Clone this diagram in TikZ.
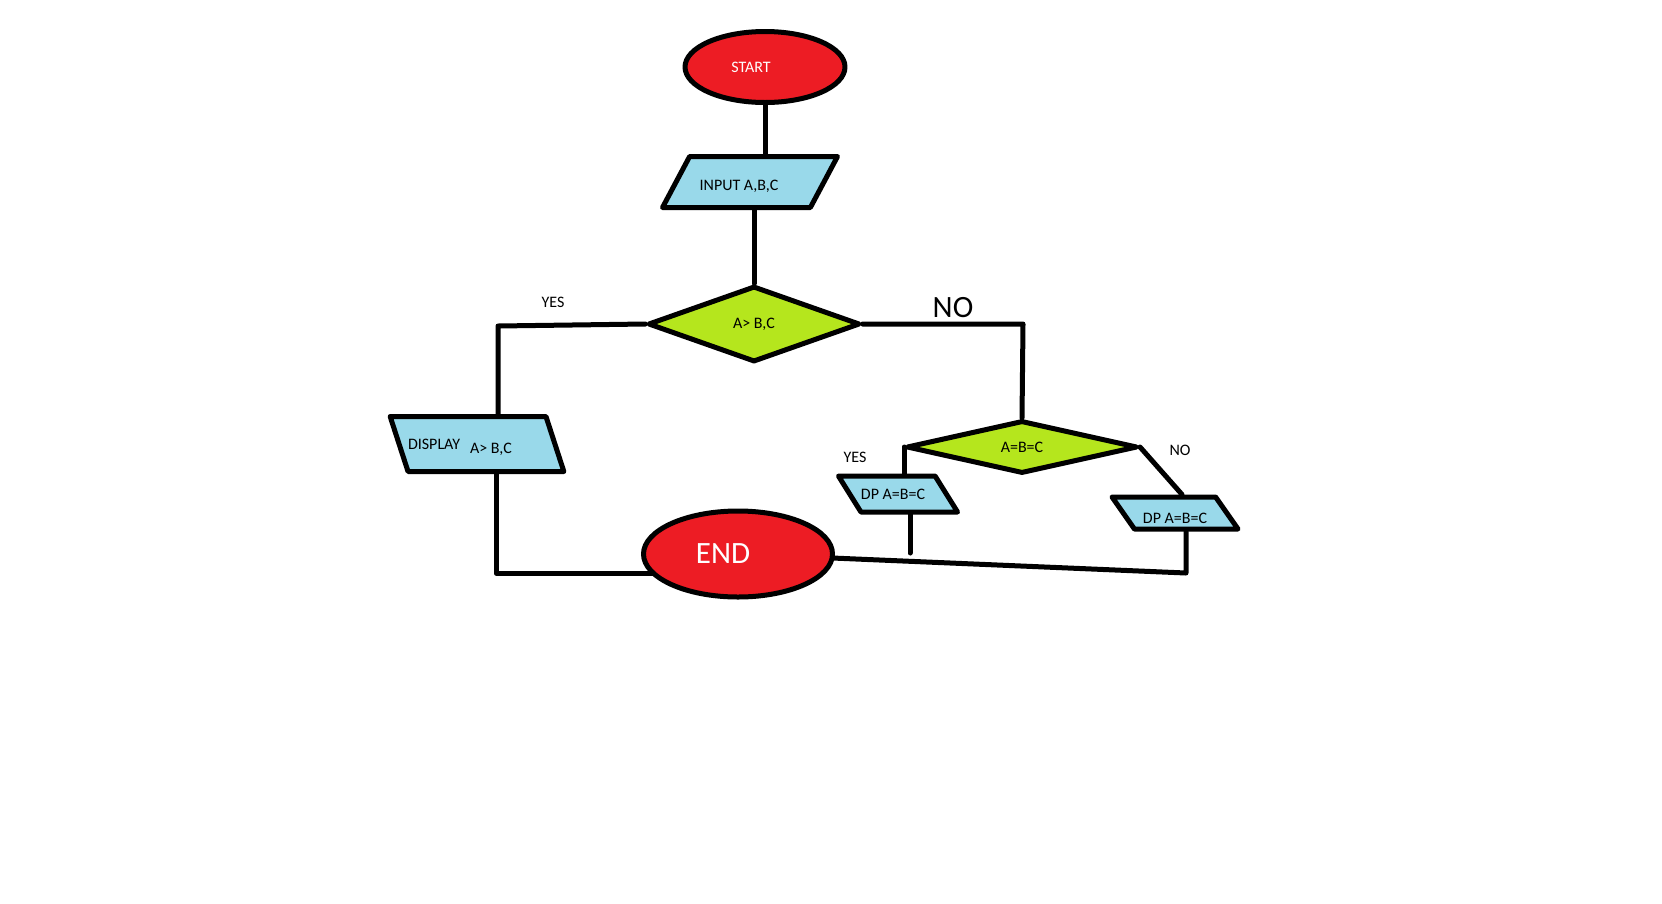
\documentclass[tikz,border=0pt]{standalone}
\usepackage{fontspec}
\setmainfont{Carlito}
\usetikzlibrary{shapes.geometric, positioning, backgrounds}
\definecolor{tfill}{RGB}{237,28,36}
\definecolor{iofill}{RGB}{153,217,234}
\definecolor{dfill}{RGB}{181,230,29}

\begin{document}
\begin{tikzpicture}[
  x=1pt, y=-1pt,
  font=\fontsize{16}{18}\selectfont,
  fc/.style={draw, line width=5pt, inner sep=0pt, line join=round},
  term/.style={fc, ellipse, fill=tfill, text=white},
  io/.style={fc, trapezium, trapezium stretches body=true, fill=iofill},
  dec/.style={fc, diamond, fill=dfill},
  wire/.style={line width=5pt, line cap=round, line join=round},
  lbl/.style={inner sep=0pt},
  big/.style={font=\fontsize{31}{34}\selectfont},
]
\useasboundingbox (0,0) rectangle (1662,903);

\node[term, minimum width=160pt, minimum height=71pt] (start) at (765,67) {START\hspace*{28pt}};
\node[io, trapezium left angle=62, trapezium right angle=118, minimum width=175pt,
      text height=34pt, text depth=17pt] (input) at (750,182) {INPUT A,B,C\hspace*{22pt}};
\node[dec, minimum width=212pt, minimum height=76pt] (gt) at (754,324) {A> B,C};
\node[io, trapezium left angle=108, trapezium right angle=72, minimum width=170pt,
      text height=32.5pt, text depth=22.5pt] (show) at (477,444)
      {DISPLAY\hspace{10pt}\raisebox{-4pt}{A> B,C}\hspace*{34pt}};
\node[dec, minimum width=231pt, minimum height=49pt] (eq) at (1022,447) {A=B=C};
\node[io, trapezium left angle=122, trapezium right angle=58, minimum width=117pt,
      text height=23pt, text depth=13pt] (dpyes) at (898,494) {DP A=B=C\hspace*{10pt}};
\node[io, trapezium left angle=125, trapezium right angle=55, minimum width=126pt,
      text height=26pt, text depth=6pt] (dpno) at (1175,513) {DP A=B=C};
\node[term, big, minimum width=189pt, minimum height=86pt] (stop) at (738,554) {END\hspace*{30pt}};

% branch labels
\node[lbl] (yesa) at (553,302) {YES};
\node[lbl, big] (noa) at (953,308) {NO};
\node[lbl] (yesb) at (855,457) {YES};
\node[lbl] (nob) at (1180,450) {NO};

\coordinate (ycorner) at (498,326);
\coordinate (lcorner) at (496,573);
\coordinate (ncorner) at (1023,324);
\coordinate (rcorner) at (1186,573);
\coordinate (yend) at (910,553);

\begin{scope}[on background layer]
\draw[wire] (start) -- (start |- input.north);
\draw[wire] (gt.north |- input.south) -- (gt.north);
\draw[wire] (gt.west) -- (ycorner) -- (ycorner |- show.north);
\draw[wire] (lcorner |- show.south) -- (lcorner) -- (stop.center |- lcorner);
\draw[wire] (gt.east) -- (ncorner) -- (eq.north);
\draw[wire] (eq.west) -- (eq.west |- dpyes.north);
\draw[wire] (eq.east) -- ([xshift=7pt]dpno.north);
\draw[wire] (yend |- dpyes.south) -- (yend);
\draw[wire] (stop.center) -- (rcorner) -- (rcorner |- dpno.south);
\end{scope}
\end{tikzpicture}
\end{document}
